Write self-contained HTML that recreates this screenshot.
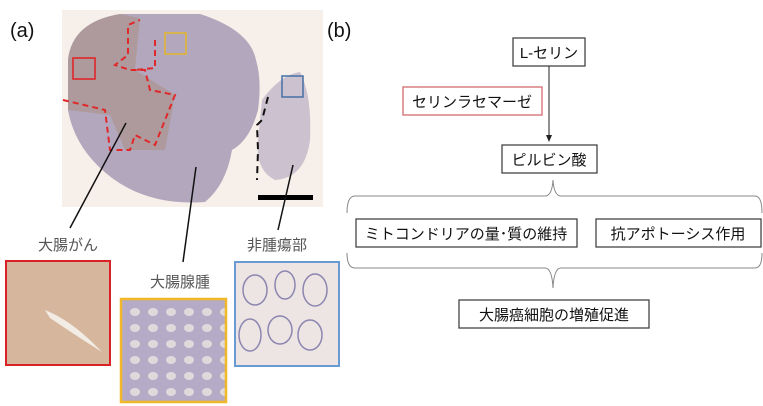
<!DOCTYPE html>
<html><head><meta charset="utf-8"><style>
body{margin:0;background:#fff;width:763px;height:406px;overflow:hidden;font-family:"Liberation Sans","Noto Sans CJK JP",sans-serif}
</style></head><body>
<svg width="763" height="406" xmlns="http://www.w3.org/2000/svg" style="position:absolute;left:0;top:0">
<defs>
<marker id="ah" markerWidth="8" markerHeight="8" refX="4" refY="4" orient="auto"><path d="M0,1 L7,4 L0,7z" fill="#222"/></marker>
<pattern id="glands" width="18" height="16" patternUnits="userSpaceOnUse"><rect width="18" height="16" fill="#b5abc6"/><ellipse cx="9" cy="8" rx="5" ry="4" fill="#e0d9dc"/></pattern>
</defs>
<text x="10" y="37" font-size="20" fill="#111" font-family="Liberation Sans,sans-serif">(a)</text>
<text x="327" y="37" font-size="20" fill="#111" font-family="Liberation Sans,sans-serif">(b)</text>
<rect x="62" y="10" width="261" height="197" fill="#f7efe9"/>
<path d="M68,60 Q72,22 120,14 L200,14 Q250,30 256,60 Q262,80 258,110 Q250,140 232,150 Q226,185 205,202 Q150,206 112,178 Q75,150 68,110Z" fill="#b3a7bd"/>
<path d="M68,60 Q72,22 120,14 L140,18 L135,70 L175,95 L165,150 L125,150 L110,115 L68,110Z" fill="#ae9a9c"/>
<path d="M262,100 Q280,75 300,72 Q312,95 310,140 Q305,178 275,180 Q255,170 258,140Z" fill="#cbc1cf"/>
<path d="M63,100 L105,110 L110,150 L130,150 L135,135 L155,145 L165,120 L175,95 L150,90 L145,70 L130,70 L115,65 L128,55 L128,25 L140,20 M155,40 L155,68 L135,70" fill="none" stroke="#e0282a" stroke-width="2" stroke-dasharray="6,4"/>
<path d="M268,97 L262,120 L257,125 L258,150 L257,180" fill="none" stroke="#111" stroke-width="2" stroke-dasharray="7,5"/>
<rect x="73" y="58" width="22" height="21" fill="none" stroke="#e21e22" stroke-width="1.5"/>
<rect x="165" y="33" width="21" height="21" fill="none" stroke="#e3b52a" stroke-width="1.5"/>
<rect x="282" y="76" width="21" height="21" fill="none" stroke="#4470a6" stroke-width="1.5"/>
<rect x="258" y="195" width="55" height="5" fill="#000"/>
<line x1="126" y1="123" x2="70" y2="228" stroke="#111" stroke-width="1.5"/>
<line x1="196" y1="167" x2="183" y2="262" stroke="#111" stroke-width="1.5"/>
<line x1="293" y1="165" x2="278" y2="230" stroke="#111" stroke-width="1.5"/>
<text x="68" y="250" font-size="15" fill="#555" text-anchor="middle">大腸がん</text>
<text x="180" y="287" font-size="15" fill="#555" text-anchor="middle">大腸腺腫</text>
<text x="277" y="250" font-size="15" fill="#555" text-anchor="middle">非腫瘍部</text>
<rect x="6" y="261" width="104" height="104" fill="#d6b79e" stroke="#d82226" stroke-width="2"/>
<path d="M45,310 Q70,320 95,345 L102,352 Q75,335 50,318Z" fill="#f3ece5"/>
<rect x="121" y="299" width="105" height="103" fill="url(#glands)" stroke="#f2b829" stroke-width="2.5"/>
<rect x="235" y="262" width="104" height="104" fill="#ece5e3" stroke="#6a9ad4" stroke-width="2"/>
<g fill="none" stroke="#8c86b0" stroke-width="1.5">
<ellipse cx="255" cy="290" rx="12" ry="15"/><ellipse cx="285" cy="285" rx="10" ry="14"/><ellipse cx="315" cy="290" rx="12" ry="16"/>
<ellipse cx="250" cy="335" rx="11" ry="16"/><ellipse cx="280" cy="330" rx="12" ry="14"/><ellipse cx="310" cy="335" rx="12" ry="15"/>
</g>
<g fill="#fff" stroke="#444" stroke-width="1.3">
<rect x="513" y="38" width="72" height="28"/>
<rect x="502" y="145" width="95" height="28"/>
<rect x="356" y="219" width="221" height="28"/>
<rect x="596" y="219" width="165" height="28"/>
<rect x="459" y="300" width="190" height="28"/>
</g>
<rect x="403" y="87" width="139" height="28" fill="#fff" stroke="#d36a6e" stroke-width="1.3"/>
<line x1="549" y1="66" x2="549" y2="139" stroke="#222" stroke-width="1" marker-end="url(#ah)"/>
<path d="M347,213 Q347,196 355,196 L545,196 Q552,196 553,180 Q554,196 561,196 L755,196 Q762,196 762,213" fill="none" stroke="#888" stroke-width="1"/>
<path d="M347,253 Q347,268 355,268 L545,268 Q552,268 553,288 Q554,268 561,268 L755,268 Q762,268 762,253" fill="none" stroke="#888" stroke-width="1"/>
<g font-size="15" fill="#111" text-anchor="middle">
<text x="549" y="58">L-セリン</text>
<text x="472" y="107">セリンラセマーゼ</text>
<text x="549" y="165">ピルビン酸</text>
<text x="466" y="239">ミトコンドリアの量･質の維持</text>
<text x="678" y="239">抗アポトーシス作用</text>
<text x="554" y="320">大腸癌細胞の増殖促進</text>
</g>
</svg>
</body></html>
